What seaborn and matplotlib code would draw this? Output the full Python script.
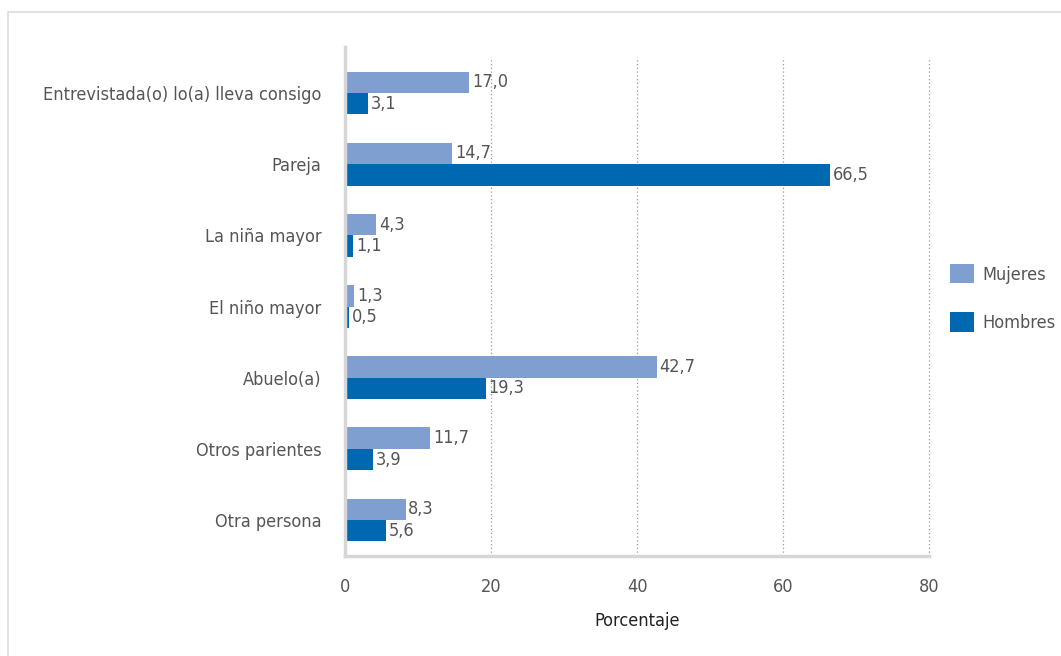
import matplotlib
matplotlib.use("Agg")
import matplotlib.pyplot as plt
import seaborn as sns
import pandas as pd
import numpy as np
from matplotlib.patches import Rectangle, Patch
from matplotlib import font_manager as fm

categories = ["Entrevistada(o) lo(a) lleva consigo", "Pareja", "La niña mayor",
              "El niño mayor", "Abuelo(a)", "Otros parientes", "Otra persona"]
mujeres = [17.0, 14.7, 4.3, 1.3, 42.7, 11.7, 8.3]
hombres = [3.1, 66.5, 1.1, 0.5, 19.3, 3.9, 5.6]
series = ["Mujeres", "Hombres"]
xticks = [0, 20, 40, 60, 80]

sns.set_theme(style="white")

cond = [f for f in fm.fontManager.ttflist
        if ("condensed" in str(f.stretch).lower() or "Narrow" in f.name or "Condensed" in f.name)
        and f.style == "normal" and f.weight in (400, "normal")]
if cond:
    fam = cond[0].name
    plt.rcParams['font.family'] = [fam, 'DejaVu Sans']
    plt.rcParams['font.stretch'] = cond[0].stretch
    fs = 12.5
else:
    plt.rcParams['font.family'] = ['DejaVu Sans']
    fs = 11

df = pd.DataFrame({
    "cat": categories * 2,
    "val": mujeres + hombres,
    "serie": [series[0]] * len(categories) + [series[1]] * len(categories),
})

colors = {"Mujeres": "#7f9fd0", "Hombres": "#0067b1"}
txt = "#555555"

fig = plt.figure(figsize=(10.61, 6.56), dpi=100)
fig.patches.append(Rectangle((8 / 1061, -0.1), 1.2, 1.1 - 12 / 656, transform=fig.transFigure,
                             fill=False, edgecolor="#dcdcdc", linewidth=1.2, zorder=0))
ax = fig.add_axes([345 / 1061, 1 - 555.6 / 656, 584 / 1061, (555.6 - 57.4) / 656])

sns.barplot(data=df, y="cat", x="val", hue="serie", palette=colors, orient="h",
            width=0.6, ax=ax, legend=False, saturation=1, linewidth=0)

for cont in ax.containers:
    labels = [f"{v:.1f}".replace(".", ",") for v in cont.datavalues]
    ax.bar_label(cont, labels=labels, padding=2, fontsize=fs + 0.5, color=txt)

ax.set_xlim(0, 80)
ax.set_ylim(len(categories) - 0.5, -0.5)
ax.set_xticks(xticks)
ax.set_xticklabels([str(t) for t in xticks], fontsize=fs + 0.5, color=txt)
ax.set_yticks(range(len(categories)))
ax.set_yticklabels(categories, fontsize=fs + 0.5, color=txt)
ax.set_yticks(np.arange(-0.5, len(categories) + 0.5, 1), minor=True)
ax.tick_params(axis="y", which="major", length=0, pad=17)
ax.tick_params(axis="y", which="minor", length=8, color="#d0d0d0", width=1.5, direction="out")
ax.tick_params(axis="x", which="major", length=7, color="#b0b0b0", width=0.8, pad=9)
ax.xaxis.grid(True, linestyle=(0, (1, 2)), color="#9a9a9a", linewidth=0.9)
for gl in ax.get_xgridlines():
    gl.set_clip_on(False)
ax.set_axisbelow(True)
ax.set_ylabel("")
ax.set_xlabel("Porcentaje", fontsize=fs + 0.5, color="#222222", labelpad=12)

for s in ["top", "right"]:
    ax.spines[s].set_visible(False)
for s in ["left", "bottom"]:
    ax.spines[s].set_color("#d6d6d6")
    ax.spines[s].set_linewidth(2.5)
ax.spines["left"].set_bounds(len(categories) - 0.5, -0.65)

handles = [Patch(facecolor=colors[s], edgecolor="none", label=s) for s in series]
fig.legend(handles=handles, loc="center left", bbox_to_anchor=(934 / 1061, 1 - 298 / 656),
           frameon=False, fontsize=fs + 0.5, labelcolor=txt, handlelength=1.3, handleheight=1.3,
           labelspacing=1.6, handletextpad=0.5)

fig.savefig("out.png", dpi=100)
